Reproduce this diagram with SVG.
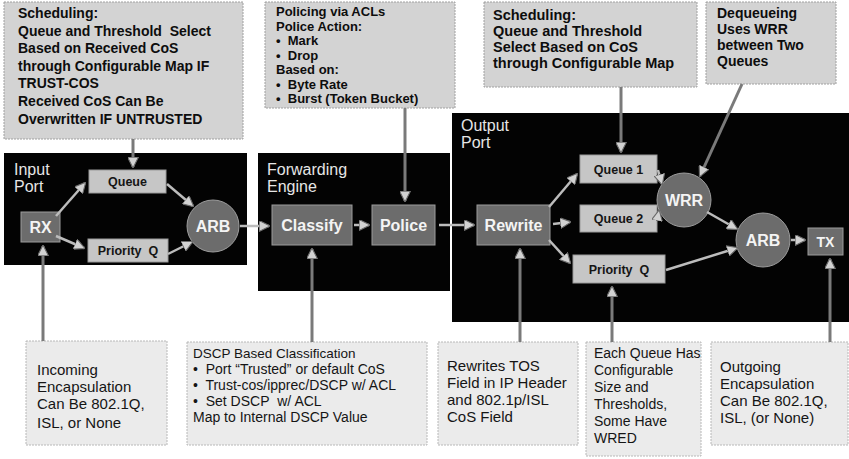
<svg xmlns="http://www.w3.org/2000/svg" width="849" height="459" viewBox="0 0 849 459">
<defs>
<marker id="ah" viewBox="0 0 10 10" refX="9" refY="5" markerWidth="11" markerHeight="11" markerUnits="userSpaceOnUse" orient="auto">
<path d="M0,0 L10,5 L0,10 Z" fill="#d2d2d2" stroke="#6a6a6a" stroke-width="1"/>
</marker>
</defs>
<style>
.note{fill:#d3d3d3;stroke:#a0a0a0;stroke-width:1;stroke-dasharray:2 1}
.noteb{fill:#ebebeb;stroke:#b8b8b8;stroke-width:1;stroke-dasharray:2 1}
.tb{font-family:"Liberation Sans",Arial,sans-serif;font-weight:bold;font-size:14px;fill:#0d0d0d}
.tr{font-family:"Liberation Sans",Arial,sans-serif;font-size:15px;fill:#151515}
.ts{font-family:"Liberation Sans",Arial,sans-serif;font-size:14px;fill:#151515}
.blk{fill:#030303}
.ttl{font-family:"Liberation Sans",Arial,sans-serif;font-size:16px;fill:#e6e6e6}
.lq{fill:#c6c6c6;stroke:#9a9a9a}
.dq{fill:#6c6c6c;stroke:#9c9c9c}
.lt{font-family:"Liberation Sans",Arial,sans-serif;font-weight:bold;font-size:12.5px;fill:#151515;text-anchor:middle}
.dt{font-family:"Liberation Sans",Arial,sans-serif;font-weight:bold;font-size:16px;fill:#f4f4f4;text-anchor:middle}
.c{stroke:#bcbcbc;stroke-width:2.5;fill:none;marker-end:url(#ah)}
.cv{stroke:#7a7a7a;stroke-width:3;fill:none;marker-end:url(#ah)}
</style>

<g id="note-input-sched">
<rect class="note" x="4" y="2" width="239" height="137"/>
<text class="tb"><tspan x="18" y="18">Scheduling:</tspan><tspan x="18" y="36">Queue and Threshold&#160; Select</tspan><tspan x="18" y="53">Based on Received CoS</tspan><tspan x="18" y="71">through Configurable Map IF</tspan><tspan x="18" y="88">TRUST-COS</tspan><tspan x="18" y="106">Received CoS Can Be</tspan><tspan x="18" y="124">Overwritten IF UNTRUSTED</tspan></text>
</g>

<g id="note-policing">
<rect class="note" x="265" y="2" width="190" height="106"/>
<text class="tb" style="font-size:13px"><tspan x="276" y="16">Policing via ACLs</tspan><tspan x="276" y="30.5">Police Action:</tspan><tspan x="276" y="45">•&#160; Mark</tspan><tspan x="276" y="59.5">•&#160; Drop</tspan><tspan x="276" y="74">Based on:</tspan><tspan x="276" y="88.5">•&#160; Byte Rate</tspan><tspan x="276" y="103">•&#160; Burst (Token Bucket)</tspan></text>
</g>

<g id="note-output-sched">
<rect class="note" x="484" y="2" width="213" height="85"/>
<text class="tb" style="font-size:14.5px"><tspan x="493" y="20">Scheduling:</tspan><tspan x="493" y="36">Queue and Threshold</tspan><tspan x="493" y="52">Select Based on CoS</tspan><tspan x="493" y="68">through Configurable Map</tspan></text>
</g>

<g id="note-dequeue">
<rect class="note" x="706" y="2" width="130" height="82"/>
<text class="tb"><tspan x="717" y="18">Dequeueing</tspan><tspan x="717" y="34">Uses WRR</tspan><tspan x="717" y="50">between Two</tspan><tspan x="717" y="66">Queues</tspan></text>
</g>

<g id="input-port">
<rect class="blk" x="4" y="153" width="243" height="112"/>
<text class="ttl"><tspan x="14" y="175">Input</tspan><tspan x="14" y="192">Port</tspan></text>
</g>

<g id="forwarding-engine">
<rect class="blk" x="258" y="153" width="192" height="138"/>
<text class="ttl"><tspan x="267" y="175">Forwarding</tspan><tspan x="267" y="192">Engine</tspan></text>
</g>

<g id="output-port">
<rect class="blk" x="452" y="113" width="397" height="209"/>
<text class="ttl"><tspan x="461" y="131">Output</tspan><tspan x="461" y="148">Port</tspan></text>
</g>

<g id="rx"><rect class="dq" x="21" y="212" width="39" height="30"/><text class="dt" x="40.5" y="233">RX</text></g>
<g id="queue-in"><rect class="lq" x="89" y="170" width="77" height="23"/><text class="lt" x="127.5" y="186">Queue</text></g>
<g id="priority-in"><rect class="lq" x="88" y="239" width="80" height="23"/><text class="lt" x="128" y="255">Priority&#160; Q</text></g>
<g id="arb-in"><circle class="dq" cx="213" cy="226" r="26"/><text class="dt" x="213" y="232">ARB</text></g>

<g id="classify"><rect class="dq" x="272" y="205" width="80" height="40"/><text class="dt" x="312" y="231">Classify</text></g>
<g id="police"><rect class="dq" x="372" y="205" width="63" height="40"/><text class="dt" x="403.5" y="231">Police</text></g>

<g id="rewrite"><rect class="dq" x="477" y="205" width="73" height="40"/><text class="dt" x="513.5" y="231">Rewrite</text></g>
<g id="queue1"><rect class="lq" x="580" y="155" width="77" height="28"/><text class="lt" x="618.5" y="174">Queue 1</text></g>
<g id="queue2"><rect class="lq" x="580" y="205" width="77" height="27"/><text class="lt" x="618.5" y="223">Queue 2</text></g>
<g id="priority-out"><rect class="lq" x="573" y="255" width="92" height="28"/><text class="lt" x="619" y="274">Priority&#160; Q</text></g>
<g id="wrr"><circle class="dq" cx="684" cy="200" r="27"/><text class="dt" x="684" y="206">WRR</text></g>
<g id="arb-out"><circle class="dq" cx="763" cy="240" r="27"/><text class="dt" x="763" y="246">ARB</text></g>
<g id="tx"><rect class="dq" x="808" y="228" width="35" height="27"/><text class="dt" x="825.5" y="247" style="font-size:14px">TX</text></g>

<g id="note-incoming">
<rect class="noteb" x="26" y="341" width="141" height="104"/>
<text class="tr"><tspan x="37" y="375">Incoming</tspan><tspan x="37" y="392">Encapsulation</tspan><tspan x="37" y="409">Can Be 802.1Q,</tspan><tspan x="37" y="428">ISL, or None</tspan></text>
</g>

<g id="note-dscp">
<rect class="noteb" x="187" y="342" width="240" height="103"/>
<text class="ts"><tspan x="193" y="358" style="font-size:13.5px">DSCP Based Classification</tspan><tspan x="193" y="374">•&#160; Port “Trusted” or default CoS</tspan><tspan x="193" y="390">•&#160; Trust-cos/ipprec/DSCP w/ ACL</tspan><tspan x="193" y="406">•&#160; Set DSCP&#160; w/ ACL</tspan><tspan x="193" y="422">Map to Internal DSCP Value</tspan></text>
</g>

<g id="note-rewrite">
<rect class="noteb" x="438" y="342" width="140" height="103"/>
<text class="tr"><tspan x="447" y="371">Rewrites TOS</tspan><tspan x="447" y="388">Field in IP Header</tspan><tspan x="447" y="405">and 802.1p/ISL</tspan><tspan x="447" y="422">CoS Field</tspan></text>
</g>

<g id="note-queue">
<rect class="noteb" x="586" y="342" width="115" height="114"/>
<text class="tr" style="font-size:14px"><tspan x="594" y="358">Each Queue Has</tspan><tspan x="594" y="375">Configurable</tspan><tspan x="594" y="392">Size and</tspan><tspan x="594" y="409">Thresholds,</tspan><tspan x="594" y="426">Some Have</tspan><tspan x="594" y="443">WRED</tspan></text>
</g>

<g id="note-outgoing">
<rect class="noteb" x="711" y="342" width="137" height="103"/>
<text class="tr"><tspan x="720" y="372">Outgoing</tspan><tspan x="720" y="389">Encapsulation</tspan><tspan x="720" y="406">Can Be 802.1Q,</tspan><tspan x="720" y="423">ISL, (or None)</tspan></text>
</g>

<g id="connectors">
<path class="c" d="M56,216 L85,183"/>
<path class="c" d="M56,236 L84,248"/>
<path class="c" d="M167,184 L193,206"/>
<path class="c" d="M168,254 L192,242"/>
<path class="c" d="M240,226 L269,226"/>
<path class="c" d="M354,225 L369,225"/>
<path class="c" d="M439,225 L474,225"/>
<path class="c" d="M549,207 L577,174"/>
<path class="c" d="M553,224 L570,222"/>
<path class="c" d="M549,240 L570,263"/>
<path class="c" d="M658,170 L662,184"/>
<path class="c" d="M658,216 L659,211"/>
<path class="c" d="M707,212 L737,229"/>
<path class="c" d="M666,270 L737,248"/>
<path class="c" d="M791,240 L805,240"/>
<path class="cv" d="M133,139 L133,167"/>
<path class="cv" d="M405,108 L405,201"/>
<path class="cv" d="M621,87 L621,152"/>
<path class="cv" d="M742,84 L700,176"/>
<path class="cv" d="M43,341 L43,246"/>
<path class="cv" d="M312,342 L312,249"/>
<path class="cv" d="M520,342 L520,249"/>
<path class="cv" d="M612,342 L612,287"/>
<path class="cv" d="M830,342 L830,259"/>
</g>
</svg>
